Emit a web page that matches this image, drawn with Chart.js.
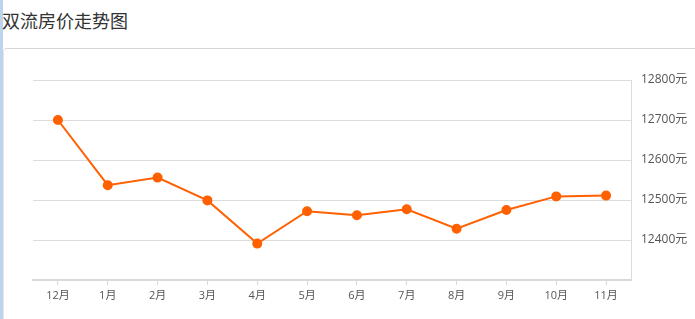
<!DOCTYPE html>
<html><head><meta charset="utf-8">
<script src="https://cdn.jsdelivr.net/npm/chart.js@4/dist/chart.umd.min.js"></script>
<style>
html,body{margin:0;padding:0;background:#fff;}
body{width:695px;height:319px;overflow:hidden;position:relative;font-family:"Noto Sans CJK SC","Noto Sans",sans-serif;}
#bar{position:absolute;left:0;top:0;width:3px;height:319px;background:#bcd4ee;}
#title{position:absolute;left:2px;top:7px;font-size:18px;color:#333;line-height:26px;}
#box{position:absolute;left:3px;top:48px;width:700px;height:300px;border-top:1px solid #d6d6d6;border-left:1px solid #e6e6e6;border-top-left-radius:4px;}
#wrap{position:absolute;left:0;top:49px;width:695px;height:270px;}
</style></head>
<body>
<div id="bar"></div>
<div id="title">双流房价走势图</div>
<div id="box"></div>
<div id="wrap"><canvas id="c"></canvas></div>
<script>
const categories = ["12月","1月","2月","3月","4月","5月","6月","7月","8月","9月","10月","11月"];
const prices = [12700,12537,12556,12499,12391,12472,12462,12477,12428,12475,12509,12511];
const yTicks = [12300,12400,12500,12600,12700,12800];
const unit = "元";

new Chart(document.getElementById('c'), {
  type: 'line',
  data: {
    labels: categories,
    datasets: [{
      data: prices,
      borderColor: '#ff6000',
      backgroundColor: '#ff6000',
      pointBackgroundColor: '#ff6000',
      pointBorderColor: '#ff6000',
      borderWidth: 2,
      pointRadius: 4,
      tension: 0,
      fill: false
    }]
  },
  options: {
    responsive: true,
    maintainAspectRatio: false,
    animation: false,
    layout: {padding: {left: 33, top: 31, right: 0, bottom: 0}},
    plugins: {legend: {display: false}, tooltip: {enabled: false}},
    scales: {
      x: {
        offset: true,
        grid: {display: true, drawOnChartArea: false, offset: false, tickLength: 5, color: '#d9d9d9'},
        border: {display: true, color: '#d9d9d9', width: 2},
        ticks: {color: '#555', font: {size: 11, family: '"Open Sans","Noto Sans CJK SC",sans-serif'}, padding: 4, maxRotation: 0, autoSkip: false},
        afterFit: (s) => { s.height = 39; }
      },
      y: {
        position: 'right',
        min: yTicks[0],
        max: yTicks[yTicks.length-1],
        afterBuildTicks: (s) => { s.ticks = yTicks.map(v => ({value: v})); },
        grid: {color: '#dcdcdc', drawTicks: false},
        border: {display: true, color: '#dcdcdc'},
        ticks: {
          color: '#555',
          padding: 10,
          font: {size: 12, family: '"Open Sans","Noto Sans CJK SC",sans-serif'},
          callback: (v) => v === yTicks[0] ? '' : v + unit
        },
        afterFit: (s) => { s.width = 64; }
      }
    }
  }
});
</script>
</body></html>
